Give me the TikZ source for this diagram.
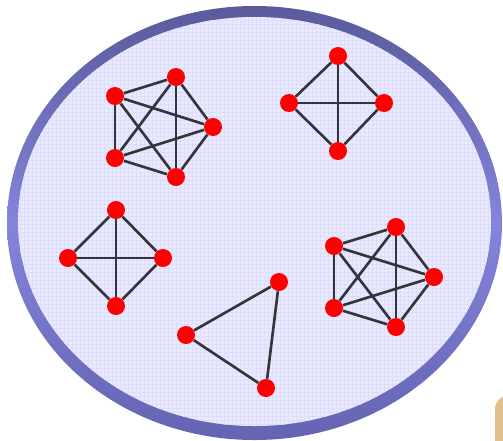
\documentclass[tikz,border=0pt]{standalone}
\usepackage{tikz}
\usetikzlibrary{shapes,positioning,calc}
\usepackage{xcolor}

\definecolor{ringtop}{RGB}{90,90,155}
\definecolor{ringmid}{RGB}{132,132,220}
\definecolor{ringbot}{RGB}{100,100,178}
\definecolor{setfill}{RGB}{234,234,255}
\definecolor{gridline}{RGB}{222,222,252}
\definecolor{tanbox}{RGB}{226,192,142}
\definecolor{edgegray}{RGB}{52,52,58}

\tikzset{
  vertex/.style={circle,fill=red,inner sep=0pt,minimum size=0.36cm},
  link/.style={draw=edgegray,line width=1.5pt}
}

\begin{document}
\begin{tikzpicture}[x=0.02cm,y=-0.02cm]
            \useasboundingbox (0,0) rectangle (503,440);

            % Set outline
            \shade[top color=ringtop,bottom color=ringbot,middle color=ringmid]
                (254.5,223) ellipse (247.5 and 217);
            \fill[setfill] (254.5,221.5) ellipse (236.5 and 204.5);
            \begin{scope}
                \clip (254.5,221.5) ellipse (236.5 and 204.5);
                \foreach \k in {0,4,...,503}
                    \draw[gridline,line width=0.3pt] (\k,0) -- (\k,440);
                \foreach \k in {0,4,...,440}
                    \draw[gridline,line width=0.3pt] (0,\k) -- (503,\k);
            \end{scope}

            % Corner of next box
            \fill[tanbox] (495,395) [rounded corners=8pt] -- (495,460) -- (540,460) -- (540,395) -- cycle;

            % Top-left K5
            \node[vertex] (a1) at (115,96) {};
            \node[vertex] (a2) at (176,77) {};
            \node[vertex] (a3) at (213,127) {};
            \node[vertex] (a4) at (115,158) {};
            \node[vertex] (a5) at (176,177) {};
            \foreach \u/\v in {a1/a2,a1/a3,a1/a4,a1/a5,a2/a3,a2/a4,a2/a5,a3/a4,a3/a5,a4/a5}
                \draw[link] (\u) -- (\v);

            % Top-right K4
            \node[vertex] (b1) at (338,56) {};
            \node[vertex] (b2) at (289,103) {};
            \node[vertex] (b3) at (384,103) {};
            \node[vertex] (b4) at (338,151) {};
            \foreach \u/\v in {b1/b2,b1/b3,b1/b4,b2/b3,b2/b4,b3/b4}
                \draw[link] (\u) -- (\v);

            % Middle-left K4
            \node[vertex] (c1) at (116,210) {};
            \node[vertex] (c2) at (68,258) {};
            \node[vertex] (c3) at (163,258) {};
            \node[vertex] (c4) at (116,306) {};
            \foreach \u/\v in {c1/c2,c1/c3,c1/c4,c2/c3,c2/c4,c3/c4}
                \draw[link] (\u) -- (\v);

            % Bottom-right K5
            \node[vertex] (d1) at (334,246) {};
            \node[vertex] (d2) at (396,227) {};
            \node[vertex] (d3) at (434,277) {};
            \node[vertex] (d4) at (334,308) {};
            \node[vertex] (d5) at (396,327) {};
            \foreach \u/\v in {d1/d2,d1/d3,d1/d4,d1/d5,d2/d3,d2/d4,d2/d5,d3/d4,d3/d5,d4/d5}
                \draw[link] (\u) -- (\v);

            % Triangle
            \node[vertex] (e1) at (279,282) {};
            \node[vertex] (e2) at (186,335) {};
            \node[vertex] (e3) at (266,388) {};
            \draw[link] (e1) -- (e2) -- (e3) -- (e1);
        \end{tikzpicture}
\end{document}
